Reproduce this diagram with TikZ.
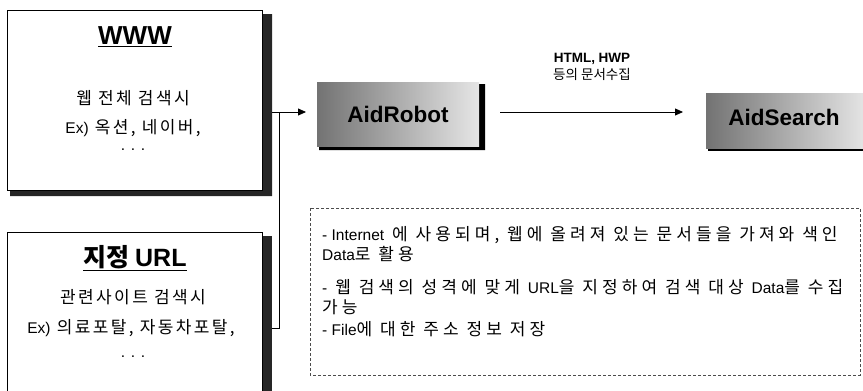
\documentclass[tikz,border=0pt]{standalone}
\usepackage{fontspec}
\setmainfont{Noto Sans CJK KR}
\newfontfamily\spaced{Noto Sans CJK KR}[LetterSpace=14]
\newfontfamily\wider{Noto Sans CJK KR}[LetterSpace=24]
\newfontfamily\lat{Liberation Sans}
\newcommand\latw[1]{{\lat\fontsize{15.5}{17}\selectfont #1}}
\usetikzlibrary{arrows.meta}
\tikzset{
  box/.style={draw=black, line width=0.8pt, fill=white, inner sep=0pt},
  shadowfill/.style={fill=black!85},
  robotbox/.style={left color=black!55, right color=black!10, inner sep=0pt},
  body/.style={font=\wider\fontsize{17}{19}\selectfont, inner sep=0pt, anchor=west},
  center/.style={font=\spaced\fontsize{17}{19}\selectfont, inner sep=0pt},
  conn/.style={line width=0.8pt},
  tip/.style={-{Triangle[length=8pt,width=7pt]}}
}
\begin{document}
\begin{tikzpicture}[x=1pt,y=-1pt]
\useasboundingbox (0,0) rectangle (863,391);
% WWW box
\fill[shadowfill] (262,14) -- (272,14) -- (272,196) -- (10,196) -- (10,190) -- (262,190) -- cycle;
\draw[box] (7,10) rectangle (262,190);
\node[inner sep=0pt, minimum width=265pt, minimum height=186pt] (www) at (139.5,103) {};
\node[font=\lat\fontsize{26}{28}\selectfont\bfseries, inner sep=0pt] (wwwt) at (135,37) {\underline{WWW}};
\node[center] (w1) at (133,98) {웹 전체 검색시};
\node[center] (w2) at (133,128) {\latw{Ex)} 옥션, 네이버,};
\node[center] (w3) at (133,150) {\latw{. . .}};
% URL box
\fill[shadowfill] (262,236) -- (272,236) -- (272,391) -- (262,391) -- cycle;
\draw[box] (7,232) rectangle (262,400);
\node[inner sep=0pt, minimum width=265pt, minimum height=190pt] (url) at (139.5,327) {};
\node[font=\fontsize{25}{27}\selectfont\bfseries, inner sep=0pt] (urlt) at (135,258) {\underline{지정 {\lat URL}}};
\node[center] (u1) at (133,297) {관련사이트 검색시};
\node[center] (u2) at (131,328) {\latw{Ex)} 의료포탈, 자동차포탈,};
\node[center] (u3) at (133,357) {\latw{. . .}};
% AidRobot
\fill[black] (477,84) -- (485,84) -- (485,150) -- (319,150) -- (319,144) -- (477,144) -- cycle;
\node[robotbox, minimum width=162pt, minimum height=64pt, font=\lat\fontsize{22.5}{24}\selectfont\bfseries] (robot) at (398,114) {AidRobot};
% AidSearch
\fill[black] (708,146) rectangle (863,151);
\node[robotbox, minimum width=160pt, minimum height=55pt, anchor=west] (search) at (706,121) {};
\node[font=\lat\fontsize{22.5}{24}\selectfont\bfseries, inner sep=0pt] (searcht) at (784,117) {AidSearch};
% label
\node[font=\fontsize{13.5}{17}\selectfont, align=center, inner sep=0pt] (lab) at (592,67) {{\lat\bfseries HTML, HWP}\\등의 문서수집};
% connectors
\coordinate (j) at (279,112);
\draw[conn] (272,112) -- (j);
\draw[conn] (272,328) -| (j);
\draw[conn, tip] (j) -- (306,112);
\draw[conn, tip] (500,112) -- (683,112);
% note box
\draw[black!70, densely dashed, line width=0.6pt] (310,208) rectangle (860,375);
\node[body] (n1) at (322,235) {\latw{- Internet} 에 사용되며, 웹에 올려져 있는 문서들을 가져와 색인};
\node[body] (n2) at (322,254) {\latw{Data}로 활용};
\node[body] (n3) at (322,287) {\latw{-} 웹 검색의 성격에 맞게 \latw{URL}을 지정하여 검색 대상 \latw{Data}를 수집};
\node[body] (n4) at (322,307) {가능};
\node[body] (n5) at (322,329) {\latw{- File}에 대한 주소 정보 저장};
\end{tikzpicture}
\end{document}
